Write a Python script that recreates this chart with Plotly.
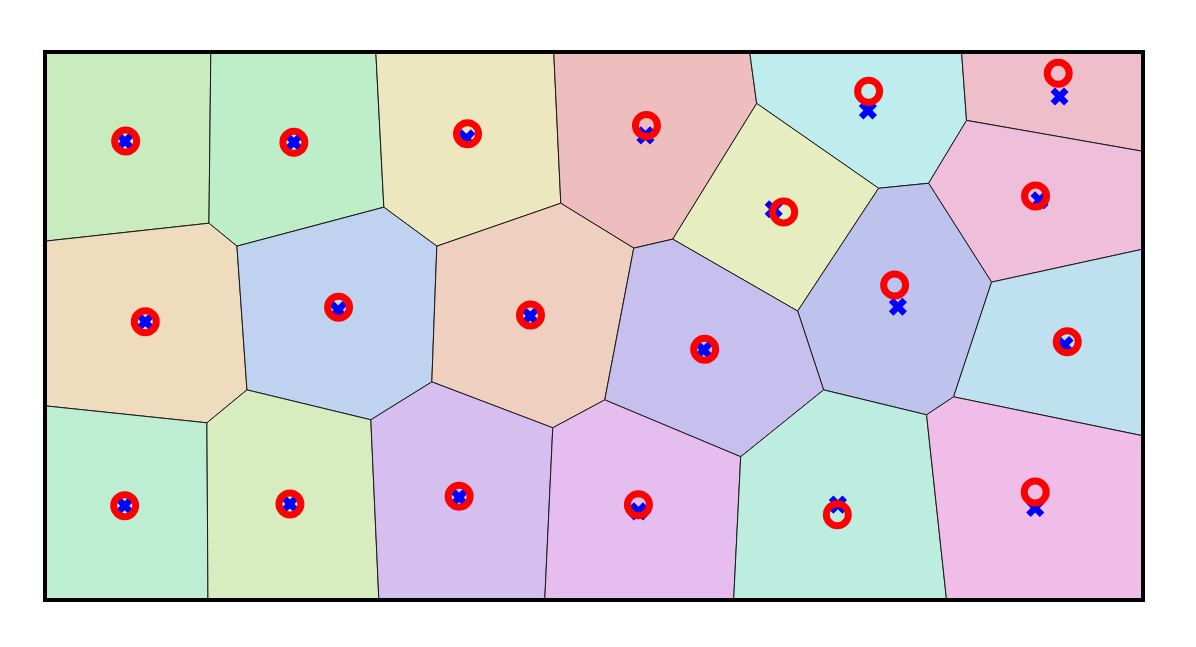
import plotly.graph_objects as go

# Voronoi vertices in data units (box is [0, 2] x [0, 1])
vertex_names = ["TL", "TR", "BL", "BR",
                "A", "B", "L1", "C", "D", "T2", "T3", "E", "F", "G", "H", "I", "T4",
                "J", "K", "Lv", "T5", "R1", "M", "R2", "N", "L2", "O", "P", "Q",
                "B1", "B2", "Rr", "S", "Tt", "U", "B3", "B4", "V", "W", "X", "R3", "B5"]
vertex_x = [0.0, 2.0, 0.0, 2.0,
            0.302, 0.2986, 0.0, 0.3496, 0.6172, 0.6026, 0.9267, 0.9395, 0.7137, 1.0724, 1.1434, 1.2963, 1.2836,
            1.5184, 1.6095, 1.6786, 1.6696, 2.0, 1.7242, 2.0, 1.3710, 0.0, 0.2949, 0.3678, 0.5935,
            0.2968, 0.6081, 0.7046, 0.9249, 1.0196, 1.2672, 0.9103, 1.2544, 1.4183, 1.6058, 1.6550, 2.0, 1.6422]
vertex_y = [1.0, 1.0, 0.0, 0.0,
            1.0, 0.6876, 0.6548, 0.6457, 0.7168, 1.0, 1.0, 0.7240, 0.6457, 0.6421, 0.6585, 0.9062, 1.0,
            0.7514, 0.7605, 0.8752, 1.0, 0.8188, 0.5801, 0.6403, 0.5273, 0.3543, 0.3233, 0.3834, 0.3288,
            0.0, 0.0, 0.3980, 0.3142, 0.3652, 0.2614, 0.0, 0.0, 0.3834, 0.3379, 0.3707, 0.2996, 0.0]

cell_vertices = [
    ["TL", "A", "B", "L1"],
    ["A", "T2", "D", "C", "B"],
    ["T2", "T3", "E", "F", "D"],
    ["T3", "T4", "I", "H", "G", "E"],
    ["T4", "T5", "Lv", "K", "J", "I"],
    ["T5", "TR", "R1", "Lv"],
    ["I", "J", "N", "H"],
    ["Lv", "R1", "R2", "M", "K"],
    ["J", "K", "M", "X", "W", "V", "N"],
    ["R2", "R3", "X", "M"],
    ["L1", "B", "C", "P", "O", "L2"],
    ["C", "D", "F", "Rr", "Q", "P"],
    ["F", "E", "G", "Tt", "S", "Rr"],
    ["G", "H", "N", "V", "U", "Tt"],
    ["L2", "O", "B1", "BL"],
    ["O", "P", "Q", "B2", "B1"],
    ["Q", "Rr", "S", "B3", "B2"],
    ["S", "Tt", "U", "B4", "B3"],
    ["U", "V", "W", "B5", "B4"],
    ["W", "X", "R3", "BR", "B5"],
]

cell_colors = ["#c9ecbf", "#bdeec7", "#ede7c0", "#eebebf", "#bfecec",
               "#eebecb", "#e5edc1", "#efbedb", "#bec3ed", "#bee0ef",
               "#efdbbd", "#bfd2ef", "#efcfbf", "#c7bfee", "#bdeed3",
               "#d7edbf", "#d6bfef", "#e5bdee", "#bdeddf", "#efbde8"]

# generator sites (blue x) and cell centroids (red circles)
site_x = [0.1457, 0.4533, 0.7674, 1.0937, 1.4990, 1.8480, 1.3273, 1.8116, 1.5536, 1.8571,
          0.1826, 0.5340, 0.8839, 1.1998, 0.1451, 0.4461, 0.7543, 1.0809, 1.4443, 1.8037]
site_y = [0.8370, 0.8352, 0.8424, 0.8479, 0.8934, 0.9189, 0.7131, 0.7295, 0.5352, 0.4654,
          0.5078, 0.5291, 0.5182, 0.4563, 0.1721, 0.1752, 0.1872, 0.1617, 0.1740, 0.1679]
centroid_x = [0.1469, 0.4533, 0.7696, 1.0955, 1.5002, 1.8456, 1.3455, 1.8043, 1.5476, 1.8620,
              0.1826, 0.5347, 0.8843, 1.2016, 0.1451, 0.4461, 0.7543, 1.0809, 1.4432, 1.8037]
centroid_y = [0.8375, 0.8352, 0.8510, 0.8661, 0.9286, 0.9614, 0.7082, 0.7373, 0.5747, 0.4714,
              0.5078, 0.5341, 0.5200, 0.4576, 0.1721, 0.1752, 0.1891, 0.1740, 0.1557, 0.1971]

lookup = {n: (x, y) for n, x, y in zip(vertex_names, vertex_x, vertex_y)}

fig = go.Figure()

for names, color in zip(cell_vertices, cell_colors):
    xs = [lookup[n][0] for n in names] + [lookup[names[0]][0]]
    ys = [lookup[n][1] for n in names] + [lookup[names[0]][1]]
    fig.add_trace(go.Scatter(
        x=xs, y=ys, mode="lines", fill="toself", fillcolor=color,
        line=dict(color="#1a1a1a", width=1), hoverinfo="skip", showlegend=False,
    ))

fig.add_trace(go.Scatter(
    x=site_x, y=site_y, mode="markers",
    marker=dict(symbol="x", size=16, color="blue", line=dict(width=0)),
    showlegend=False,
))
fig.add_trace(go.Scatter(
    x=centroid_x, y=centroid_y, mode="markers",
    marker=dict(symbol="circle-open", size=22, color="red", line=dict(width=7, color="red")),
    showlegend=False,
))

axis = dict(showticklabels=False, showgrid=False, zeroline=False, ticks="",
            showline=True, mirror=True, linecolor="black", linewidth=4)
fig.update_xaxes(range=[0.0036, 1.9964], **axis)
fig.update_yaxes(range=[0.0036, 0.9964], **axis)

fig.update_layout(
    width=1196, height=647,
    margin=dict(l=47, r=54.5, t=53.5, b=48.5),
    paper_bgcolor="white", plot_bgcolor="white",
)

fig.write_html("out.html", config={"displayModeBar": False},
               post_script="document.body.style.margin='0';")
